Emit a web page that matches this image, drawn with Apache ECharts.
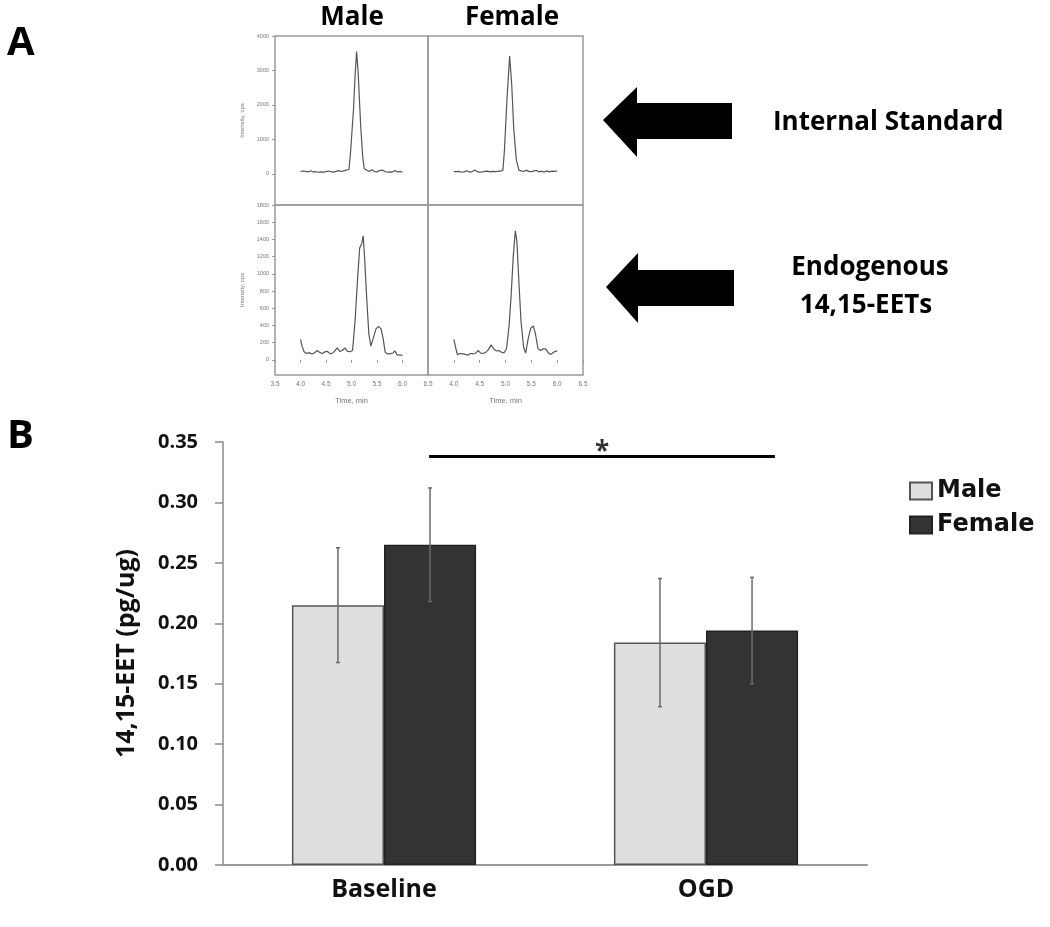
<!DOCTYPE html>
<html>
<head>
<meta charset="utf-8">
<script src="https://cdn.jsdelivr.net/npm/echarts@6/dist/echarts.min.js"></script>
<style>
  html, body { margin: 0; padding: 0; background: #fff; }
  #chart { width: 1050px; height: 927px; }
</style>
</head>
<body>
<div id="chart"></div>
<script>
// panel A: chromatograms, [time min, intensity cps]
const maleStandard = [[4.00,70],[4.05,85],[4.10,75],[4.15,60],[4.20,95],[4.25,55],[4.30,65],[4.35,50],[4.40,60],[4.45,55],[4.50,70],[4.55,85],[4.60,65],[4.65,55],[4.70,75],[4.75,95],[4.80,70],[4.85,90],[4.90,110],[4.95,130],[4.98,600],[5.04,1900],[5.07,2850],[5.10,3550],[5.13,2950],[5.18,1400],[5.22,500],[5.25,150],[5.30,110],[5.35,70],[5.40,120],[5.45,70],[5.50,60],[5.55,100],[5.60,110],[5.65,80],[5.70,50],[5.75,60],[5.80,55],[5.85,100],[5.90,55],[5.95,75],[6.00,50]]
const femaleStandard = [[4.00,70],[4.05,65],[4.10,75],[4.15,50],[4.20,60],[4.25,95],[4.30,55],[4.35,60],[4.40,115],[4.45,70],[4.50,55],[4.55,60],[4.60,75],[4.65,80],[4.70,60],[4.75,75],[4.80,65],[4.85,75],[4.90,80],[4.95,110],[4.98,700],[5.03,2200],[5.08,3420],[5.12,2600],[5.16,1300],[5.21,400],[5.26,110],[5.30,90],[5.35,70],[5.40,110],[5.45,75],[5.50,65],[5.55,90],[5.60,100],[5.65,60],[5.70,80],[5.75,55],[5.80,90],[5.85,60],[5.90,80],[5.95,75],[6.00,85]]
const maleEndogenous = [[4.00,240],[4.03,160],[4.07,95],[4.12,75],[4.17,85],[4.22,70],[4.27,80],[4.33,110],[4.38,85],[4.43,75],[4.48,95],[4.53,100],[4.58,70],[4.63,80],[4.68,110],[4.72,140],[4.77,100],[4.82,110],[4.87,140],[4.92,100],[4.97,95],[5.02,110],[5.07,450],[5.12,950],[5.16,1300],[5.20,1350],[5.23,1440],[5.26,1150],[5.30,700],[5.34,300],[5.38,160],[5.43,260],[5.48,360],[5.53,390],[5.58,360],[5.62,250],[5.66,90],[5.71,70],[5.76,70],[5.81,80],[5.85,105],[5.90,55],[5.95,60],[6.00,50]]
const femaleEndogenous = [[4.00,240],[4.04,130],[4.07,60],[4.12,75],[4.17,70],[4.22,65],[4.27,55],[4.32,75],[4.37,70],[4.42,75],[4.47,110],[4.52,80],[4.57,75],[4.62,90],[4.67,120],[4.72,175],[4.77,130],[4.82,105],[4.87,110],[4.92,90],[4.97,80],[5.02,130],[5.07,400],[5.11,760],[5.15,1200],[5.19,1500],[5.22,1380],[5.26,900],[5.30,450],[5.35,150],[5.39,80],[5.44,250],[5.49,370],[5.54,395],[5.58,300],[5.63,130],[5.68,110],[5.73,130],[5.78,125],[5.83,80],[5.88,65],[5.93,90],[6.00,105]]

const timeRange = [3.5, 6.5]
const standardRange = [-900, 4000]
const endogenousRange = [-175, 1800]

// panel B: 14,15-EET, mean and error
const groups = ['Baseline', 'OGD']
const maleMean = [0.215, 0.184]
const maleErr = [0.0475, 0.053]
const femaleMean = [0.265, 0.194]
const femaleErr = [0.047, 0.044]
const sigSpan = [0.64, 1.714]   // in category units (0 = left edge of Baseline band)
const sigLevel = 0.338
const sigMark = '*'

const BOLD = '"Open Sans", "Liberation Sans", sans-serif'
const SMALL = '"Liberation Sans", Arial, sans-serif'

const chart = echarts.init(document.getElementById('chart'), null, { renderer: 'canvas' })

const panelGrids = [
  { left: 275, top: 36, width: 153, height: 169 },
  { left: 428, top: 36, width: 155, height: 169 },
  { left: 275, top: 205, width: 153, height: 170 },
  { left: 428, top: 205, width: 155, height: 170 },
].map((g) => ({ ...g, show: true, borderColor: '#9a9a9a', borderWidth: 1.5, backgroundColor: 'transparent' }))

function chromX(i) {
  const bottom = i >= 2
  return {
    type: 'value', gridIndex: i, min: timeRange[0], max: timeRange[1], interval: 0.5,
    axisLine: { show: false },
    axisTick: { show: bottom, length: 3, lineStyle: { color: '#999' } },
    axisLabel: {
      show: bottom, fontSize: 6.5, color: '#777', fontFamily: SMALL, margin: 6,
      showMinLabel: i === 2, formatter: (v) => v.toFixed(1),
    },
    splitLine: { show: false },
    name: bottom ? 'Time, min' : '', nameLocation: 'middle', nameGap: 22,
    nameTextStyle: { fontSize: 7.5, color: '#777', fontFamily: SMALL },
  }
}

function chromY(i) {
  const left = i % 2 === 0
  const range = i < 2 ? standardRange : endogenousRange
  return {
    type: 'value', gridIndex: i, min: range[0], max: range[1],
    splitNumber: i < 2 ? 5 : 10,
    axisLine: { show: false },
    axisTick: { show: left, length: 3, lineStyle: { color: '#999' } },
    axisLabel: {
      show: left, fontSize: 5.5, color: '#777', fontFamily: SMALL, margin: 6,
      showMinLabel: false, formatter: (v) => String(v),
    },
    splitLine: { show: false },
    name: left ? 'Intensity, cps' : '', nameLocation: 'middle', nameGap: 30,
    nameTextStyle: { fontSize: 6, color: '#777', fontFamily: SMALL },
  }
}

const traces = [maleStandard, femaleStandard, maleEndogenous, femaleEndogenous]

function errorSeries(name, means, errs, sign) {
  return {
    name, type: 'custom', xAxisIndex: 4, yAxisIndex: 4, z: 5, silent: true,
    data: means.map((m, i) => [i, m - errs[i], m + errs[i]]),
    renderItem(params, api) {
      const band = api.size([1, 0])[0]
      const top = api.coord([api.value(0), api.value(2)])
      const bottom = api.coord([api.value(0), api.value(1)])
      const x = top[0] + sign * band * 0.143
      const cap = 2
      const style = { stroke: '#6a6a6a', lineWidth: 1.5 }
      return {
        type: 'group',
        children: [
          { type: 'line', shape: { x1: x, y1: top[1], x2: x, y2: bottom[1] }, style },
          { type: 'line', shape: { x1: x - cap, y1: top[1], x2: x + cap, y2: top[1] }, style },
          { type: 'line', shape: { x1: x - cap, y1: bottom[1], x2: x + cap, y2: bottom[1] }, style },
        ],
      }
    },
  }
}

const option = {
  animation: false,
  backgroundColor: '#fff',
  grid: [...panelGrids, { left: 223, top: 442, width: 644, height: 423 }],
  xAxis: [
    chromX(0), chromX(1), chromX(2), chromX(3),
    {
      type: 'category', gridIndex: 4, data: groups,
      axisLine: { lineStyle: { color: '#9a9a9a', width: 2 } },
      axisTick: { show: false },
      axisLabel: { fontSize: 25, fontWeight: 'bold', color: '#111', fontFamily: BOLD, margin: 12 },
    },
    { type: 'value', gridIndex: 4, min: 0, max: 2, show: false },
  ],
  yAxis: [
    chromY(0), chromY(1), chromY(2), chromY(3),
    {
      type: 'value', gridIndex: 4, min: 0, max: 0.35, interval: 0.05,
      axisLine: { show: true, lineStyle: { color: '#8a8a8a', width: 1.5 } },
      axisTick: { show: true, length: 8, lineStyle: { color: '#8a8a8a', width: 1.5 } },
      axisLabel: { fontSize: 20, fontWeight: 'bold', color: '#111', fontFamily: BOLD, margin: 25, formatter: (v) => v.toFixed(2) },
      splitLine: { show: false },
      name: '14,15-EET (pg/ug)', nameLocation: 'middle', nameGap: 84,
      nameTextStyle: { fontSize: 25, fontWeight: 'bold', color: '#111', fontFamily: BOLD },
    },
  ],
  legend: {
    data: ['Male', 'Female'], orient: 'vertical', left: 904, top: 474,
    icon: 'rect', itemWidth: 22, itemHeight: 17, itemGap: 10,
    textStyle: { fontSize: 24, fontWeight: 'bold', color: '#111', fontFamily: '"DejaVu Sans", sans-serif' },
  },
  series: [
    ...traces.map((data, i) => ({
      type: 'line', xAxisIndex: i, yAxisIndex: i, data, showSymbol: false, silent: true,
      lineStyle: { color: '#555', width: 1.2 },
    })),
    {
      name: 'Male', type: 'bar', xAxisIndex: 4, yAxisIndex: 4, data: maleMean,
      barWidth: '28.6%', barGap: '0%',
      itemStyle: { color: '#dedede', borderColor: '#555', borderWidth: 1.5 },
    },
    {
      name: 'Female', type: 'bar', xAxisIndex: 4, yAxisIndex: 4, data: femaleMean,
      barWidth: '28.6%', barGap: '0%',
      itemStyle: { color: '#333333', borderColor: '#222', borderWidth: 1.5 },
    },
    errorSeries('Male error', maleMean, maleErr, -1),
    errorSeries('Female error', femaleMean, femaleErr, 1),
    {
      type: 'line', xAxisIndex: 5, yAxisIndex: 4, silent: true, showSymbol: false,
      data: sigSpan.map((x) => [x, sigLevel]),
      lineStyle: { color: '#000', width: 3 },
    },
    {
      type: 'scatter', xAxisIndex: 5, yAxisIndex: 4, silent: true, symbolSize: 0,
      data: [[(sigSpan[0] + sigSpan[1]) / 2, sigLevel]],
      label: { show: true, position: 'top', distance: -9, formatter: sigMark, fontSize: 26, fontWeight: 'bold', color: '#000', fontFamily: BOLD },
    },
  ],
  graphic: [
    { type: 'text', left: 7, top: 24, style: { text: 'A', font: `bold 40px ${BOLD}`, fill: '#000' } },
    { type: 'text', left: 7, top: 417, style: { text: 'B', font: `bold 40px ${BOLD}`, fill: '#000' } },
    { type: 'text', x: 352, y: 18, style: { text: 'Male', font: `bold 26px ${BOLD}`, fill: '#000', align: 'center', verticalAlign: 'middle' } },
    { type: 'text', x: 512, y: 18, style: { text: 'Female', font: `bold 26px ${BOLD}`, fill: '#000', align: 'center', verticalAlign: 'middle' } },
    { type: 'polygon', shape: { points: [[603,120],[637,87],[637,103],[732,103],[732,139],[637,139],[637,157]] }, style: { fill: '#000' } },
    { type: 'polygon', shape: { points: [[606,287],[638,253],[638,270],[734,270],[734,306],[638,306],[638,323]] }, style: { fill: '#000' } },
    { type: 'text', x: 773, y: 123, style: { text: 'Internal Standard', font: `bold 26px ${BOLD}`, fill: '#000', verticalAlign: 'middle' } },
    { type: 'text', x: 870, y: 268, style: { text: 'Endogenous', font: `bold 26px ${BOLD}`, fill: '#000', align: 'center', verticalAlign: 'middle' } },
    { type: 'text', x: 866, y: 306, style: { text: '14,15-EETs', font: `bold 26px ${BOLD}`, fill: '#000', align: 'center', verticalAlign: 'middle' } },
  ],
}

chart.setOption(option)
</script>
</body>
</html>
